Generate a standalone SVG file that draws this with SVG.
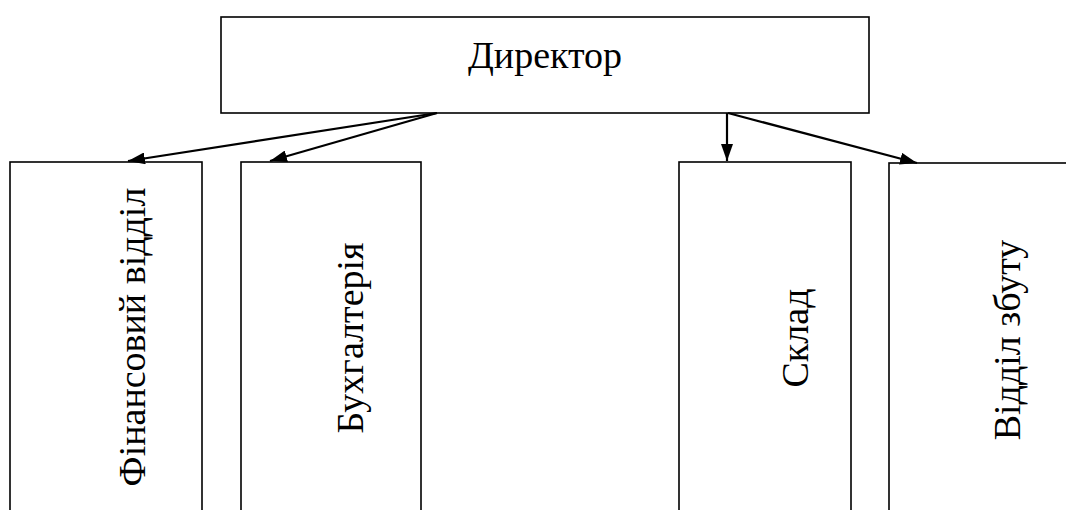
<svg xmlns="http://www.w3.org/2000/svg" width="1066" height="510" viewBox="0 0 1066 510">
<defs>
<marker id="arrowhead" viewBox="0 0 17 12" refX="17" refY="6" markerWidth="17" markerHeight="12" markerUnits="userSpaceOnUse" orient="auto">
<path d="M0,0 L17,6 L0,12 Z" fill="#000"/>
</marker>
</defs>
<rect width="1066" height="510" fill="#fff"/>
<g id="director">
<rect x="221" y="17" width="648" height="96" fill="#fff" stroke="#000" stroke-width="1.6"/>
<text x="545" y="68" font-family="'Liberation Serif', serif" font-size="38" text-anchor="middle">Директор</text>
</g>
<g id="finance">
<rect x="10" y="162" width="192" height="360" fill="#fff" stroke="#000" stroke-width="1.6"/>
<text transform="translate(145,337) rotate(-90)" font-family="'Liberation Serif', serif" font-size="38" text-anchor="middle">Фінансовий відділ</text>
</g>
<g id="accounting">
<rect x="241" y="162" width="180" height="360" fill="#fff" stroke="#000" stroke-width="1.6"/>
<text transform="translate(363,338) rotate(-90)" font-family="'Liberation Serif', serif" font-size="38" text-anchor="middle">Бухгалтерія</text>
</g>
<g id="warehouse">
<rect x="679" y="162" width="172" height="360" fill="#fff" stroke="#000" stroke-width="1.6"/>
<text transform="translate(808,338) rotate(-90)" font-family="'Liberation Serif', serif" font-size="38" text-anchor="middle">Склад</text>
</g>
<g id="sales">
<rect x="889" y="163" width="190" height="360" fill="#fff" stroke="#000" stroke-width="1.6"/>
<text transform="translate(1020,340) rotate(-90)" font-family="'Liberation Serif', serif" font-size="38" text-anchor="middle">Відділ збуту</text>
</g>
<g id="connectors" stroke="#000" stroke-width="2.2" fill="none">
<line x1="437" y1="113" x2="128" y2="161" marker-end="url(#arrowhead)"/>
<line x1="437" y1="113" x2="270" y2="161" marker-end="url(#arrowhead)"/>
<line x1="727" y1="113" x2="727" y2="161" marker-end="url(#arrowhead)"/>
<line x1="728" y1="113" x2="917" y2="163" marker-end="url(#arrowhead)"/>
</g>
</svg>
